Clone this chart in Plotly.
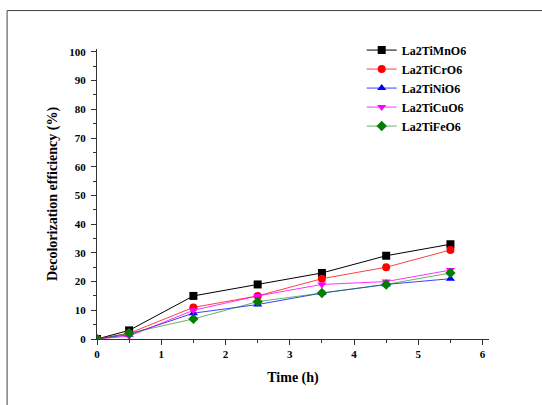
import plotly.graph_objects as go

time_h = [0, 0.5, 1.5, 2.5, 3.5, 4.5, 5.5]
series_names = ["La2TiMnO6", "La2TiCrO6", "La2TiNiO6", "La2TiCuO6", "La2TiFeO6"]
mn = [0, 3, 15, 19, 23, 29, 33]
cr = [0, 2, 11, 15, 21, 25, 31]
ni = [0, 1.5, 9, 12, 16, 19, 21]
cu = [0, 1, 10, 15, 19, 20, 24]
fe = [0, 2, 7, 13, 16, 19, 23]
values = [mn, cr, ni, cu, fe]
y_ticks = list(range(0, 101, 10))
x_ticks = list(range(0, 7))

colors = ["#000000", "#ff0000", "#0000ff", "#ff00ff", "#008000"]
line_colors = ["#000000", "rgba(255,0,0,0.75)", "rgba(0,0,255,0.75)", "rgba(255,0,255,0.8)", "rgba(0,128,0,0.6)"]
symbols = ["square", "circle", "triangle-up", "triangle-down", "diamond"]

serif = "Liberation Serif"
fig = go.Figure()
for name, vals, c, lc, s in zip(series_names, values, colors, line_colors, symbols):
    fig.add_trace(go.Scatter(
        x=time_h, y=vals, name=name, mode="lines+markers",
        line=dict(color=lc, width=1),
        marker=dict(symbol=s, size=8, color=c),
    ))

L, B = 97, 65.7
PW = 386 * 6.1 / 6
PH = 287 * 101 / 100
R = 542 - L - PW
T = 405 - B - PH

axis_common = dict(
    showline=True, linecolor="#333333", linewidth=1.2,
    ticks="outside", ticklen=5, tickcolor="#333333", tickwidth=1,
    showgrid=False, zeroline=False, mirror=False,
    tickfont=dict(family=serif, size=11, color="#000000", weight="bold"),
)
fig.update_layout(
    width=542, height=405,
    margin=dict(l=L, r=R, t=T, b=B),
    paper_bgcolor="white", plot_bgcolor="white",
    showlegend=True,
    legend=dict(
        x=(362 - L) / PW, y=(405 - B - 36) / PH, xanchor="left", yanchor="top",
        font=dict(family=serif, size=12, color="#000000", weight="bold"),
        bgcolor="rgba(0,0,0,0)", itemwidth=30, tracegroupgap=0,
    ),
    xaxis=dict(
        range=[0, 6.1], tickvals=x_ticks,
        minor=dict(ticks="outside", ticklen=3, dtick=0.5, tickcolor="#333333"),
        title=dict(text="Time (h)", font=dict(family=serif, size=14, color="#000000", weight="bold"), standoff=12),
        **axis_common,
    ),
    yaxis=dict(
        range=[0, 101], tickvals=y_ticks, ticklabelstandoff=3,
        minor=dict(ticks="outside", ticklen=3, dtick=5, tickcolor="#333333"),
        title=dict(text="Decolorization efficiency (%)", font=dict(family=serif, size=14, color="#000000", weight="bold"), standoff=8),
        **axis_common,
    ),
    shapes=[dict(
        type="rect", xref="paper", yref="paper",
        x0=(7 - L) / PW, x1=3, y0=-2, y1=(405 - B - 11) / PH,
        line=dict(color="#444444", width=1), fillcolor="rgba(0,0,0,0)", layer="below",
    )],
)

fig.write_html("out.html")
